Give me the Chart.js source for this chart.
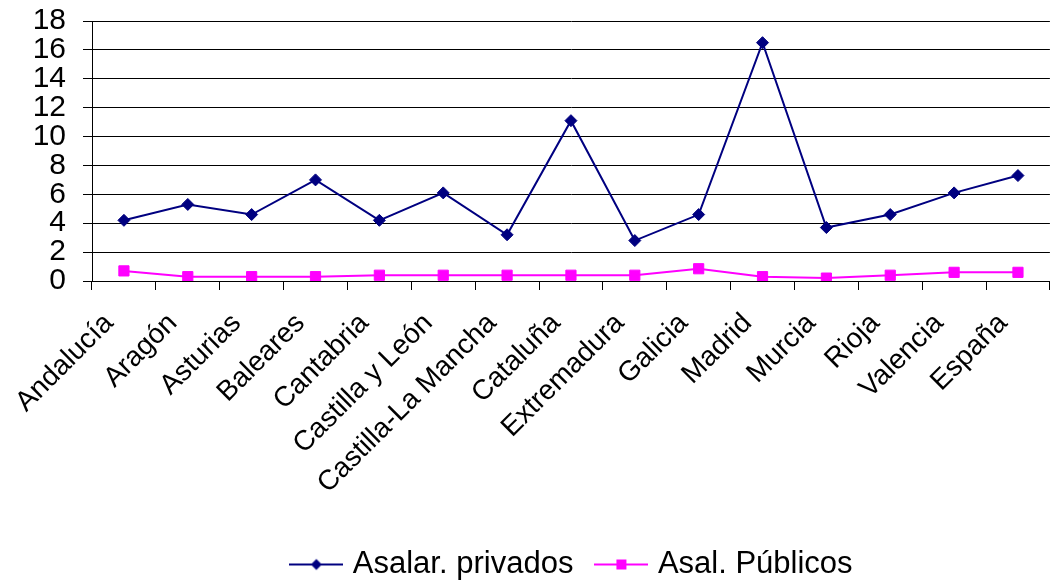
<!DOCTYPE html>
<html>
<head>
<meta charset="utf-8">
<script src="https://cdn.jsdelivr.net/npm/chart.js@4/dist/chart.umd.min.js"></script>
<style>
  html, body { margin: 0; padding: 0; background: #fff; }
  #wrap { width: 1059px; height: 582px; }
</style>
</head>
<body>
<div id="wrap"><canvas id="c"></canvas></div>
<script>
// Tasa por comunidad autónoma: asalariados privados frente a públicos
const regiones = ['Andalucía', 'Aragón', 'Asturias', 'Baleares', 'Cantabria', 'Castilla y León',
  'Castilla-La Mancha', 'Cataluña', 'Extremadura', 'Galicia', 'Madrid', 'Murcia', 'Rioja',
  'Valencia', 'España'];
const asalarPrivados = [4.2, 5.3, 4.6, 7.0, 4.2, 6.1, 3.2, 11.1, 2.8, 4.6, 16.5, 3.7, 4.6, 6.1, 7.3];
const asalPublicos   = [0.7, 0.3, 0.3, 0.3, 0.4, 0.4, 0.4, 0.4, 0.4, 0.85, 0.3, 0.2, 0.4, 0.6, 0.6];
const yTicks = [0, 2, 4, 6, 8, 10, 12, 14, 16, 18];

const FONT = '"Liberation Sans", Arial, sans-serif';
const AZUL = '#000080';
const ROSA = '#FF00FF';

// Legend icon: a short line with the series marker in the middle
function legendIcon(color, shape) {
  const cv = document.createElement('canvas');
  cv.width = 54; cv.height = 14;
  const g = cv.getContext('2d');
  g.strokeStyle = color; g.lineWidth = 2;
  g.beginPath(); g.moveTo(0, 7); g.lineTo(54, 7); g.stroke();
  g.fillStyle = color;
  g.beginPath();
  if (shape === 'diamond') {
    g.moveTo(27, 1.5); g.lineTo(32.5, 7); g.lineTo(27, 12.5); g.lineTo(21.5, 7);
  } else {
    g.rect(22, 2, 10, 10);
  }
  g.closePath(); g.fill();
  return cv;
}

// Centre the legend over the plot area and drop it slightly
const legendPlacement = {
  id: 'legendPlacement',
  afterLayout(chart) {
    const lg = chart.legend, area = chart.chartArea;
    if (!lg) return;
    lg.left = area.left + 6; lg.right = area.right;
    lg.top += 8; lg.bottom += 8;
  }
};

new Chart(document.getElementById('c'), {
  type: 'line',
  data: {
    labels: regiones,
    datasets: [
      {
        label: 'Asalar. privados',
        data: asalarPrivados,
        borderColor: AZUL, backgroundColor: AZUL,
        borderWidth: 2, pointStyle: 'rectRot', pointRadius: 6, pointBorderWidth: 1,
        tension: 0, fill: false, icon: legendIcon(AZUL, 'diamond')
      },
      {
        label: 'Asal. Públicos',
        data: asalPublicos,
        borderColor: ROSA, backgroundColor: ROSA,
        borderWidth: 2, pointStyle: 'rect', pointRadius: 7.2, pointBorderWidth: 1,
        tension: 0, fill: false, icon: legendIcon(ROSA, 'square')
      }
    ]
  },
  options: {
    responsive: true,
    maintainAspectRatio: false,
    animation: false,
    devicePixelRatio: 1,
    layout: { padding: { top: 21, right: 1, bottom: 0, left: 0 } },
    plugins: {
      tooltip: { enabled: false },
      legend: {
        position: 'bottom',
        labels: {
          usePointStyle: true,
          pointStyleWidth: 42,
          padding: 27,
          color: '#000',
          font: { family: FONT, size: 31 },
          generateLabels(chart) {
            return chart.data.datasets.map((ds, i) => ({
              text: ds.label,
              fillStyle: ds.backgroundColor,
              strokeStyle: ds.borderColor,
              lineWidth: 0,
              pointStyle: ds.icon,
              fontColor: '#000',
              hidden: false,
              datasetIndex: i
            }));
          }
        }
      }
    },
    scales: {
      x: {
        offset: true,
        grid: { display: true, drawOnChartArea: false, drawTicks: true, tickLength: 9, color: '#000', offset: true },
        border: { display: true, color: '#000', width: 1 },
        ticks: {
          autoSkip: false, minRotation: 45, maxRotation: 45,
          padding: 17, labelOffset: -15,
          color: '#000', font: { family: FONT, size: 28 }
        },
        afterFit(scale) { scale.height = 233; }
      },
      y: {
        min: 0, max: 18,
        grid: { color: '#000', lineWidth: 1, drawTicks: true, tickLength: 9 },
        border: { display: true, color: '#000', width: 1 },
        ticks: { autoSkip: false, padding: 17, color: '#000', font: { family: FONT, size: 30 } },
        afterBuildTicks(scale) { scale.ticks = yTicks.map(v => ({ value: v })); },
        afterFit(scale) {
          scale.width = 92;
          scale.paddingTop = 0;
          scale.paddingBottom = 0;
        }
      }
    }
  },
  plugins: [legendPlacement]
});
</script>
</body>
</html>
